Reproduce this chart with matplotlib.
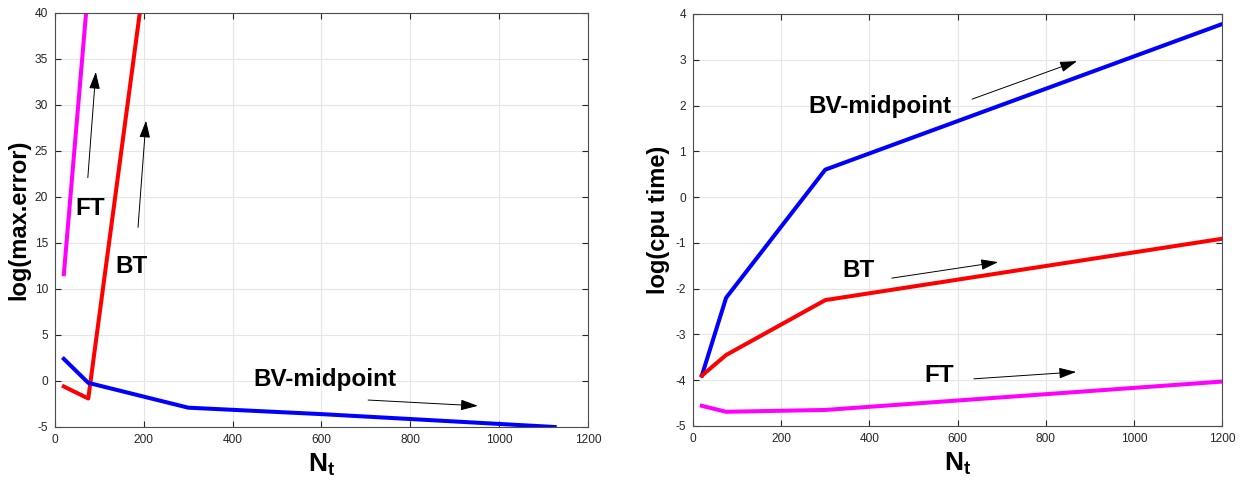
import numpy as np
import matplotlib
matplotlib.use("Agg")
import matplotlib.pyplot as plt

plt.rcParams['font.family'] = ['Liberation Sans', 'DejaVu Sans']
plt.rcParams['mathtext.fontset'] = 'custom'
plt.rcParams['mathtext.rm'] = 'Liberation Sans'
plt.rcParams['mathtext.bf'] = 'Liberation Sans:bold'
plt.rcParams['axes.unicode_minus'] = False

# left panel: log(max.error)
nt_ft_err = [20, 75]
ft_err = [11.6, 42.8]
nt_bt_err = [20, 75, 300]
bt_err = [-0.6, -1.9, 79.4]
nt_bv_err = [20, 75, 300, 600, 1125]
bv_err = [2.4, -0.2, -2.9, -3.6, -5.0]

# right panel: log(cpu time)
nt_cpu = [20, 75, 300, 1200]
bv_cpu = [-3.9, -2.2, 0.6, 3.78]
bt_cpu = [-3.9, -3.45, -2.25, -0.91]
ft_cpu = [-4.56, -4.69, -4.65, -4.03]

grid_col = '#e6e6e6'
tick_col = '#262626'
lw = 2.9

fig = plt.figure(figsize=(12.46, 4.86), dpi=100)
ax1 = fig.add_axes([0.0441, 0.1214, 0.4278, 0.8519])
ax2 = fig.add_axes([0.5562, 0.1235, 0.4246, 0.8477])


def style(ax):
    ax.grid(True, color=grid_col, lw=0.8)
    ax.set_axisbelow(True)
    ax.tick_params(direction='in', top=True, right=True, labelsize=8.6,
                   colors=tick_col, length=4, width=0.8, pad=5)
    for s in ax.spines.values():
        s.set_color('#4d4d4d')
        s.set_linewidth(0.8)


def arrow(ax, x0, y0, x1, y1):
    ax.annotate('', xy=(x1, y1), xytext=(x0, y0),
                arrowprops=dict(arrowstyle='-|>,head_length=0.7,head_width=0.22',
                                color='black', lw=0.7,
                                mutation_scale=15, shrinkA=0, shrinkB=0))


# left
ax1.plot(nt_ft_err, ft_err, color='magenta', lw=lw)
ax1.plot(nt_bt_err, bt_err, color='red', lw=lw)
ax1.plot(nt_bv_err, bv_err, color='blue', lw=lw)
ax1.set_xlim(0, 1200)
ax1.set_ylim(-5, 40)
ax1.set_xticks(np.arange(0, 1201, 200))
ax1.set_yticks(np.arange(-5, 41, 5))
style(ax1)
ax1.set_xlabel(r'$\mathbf{N_t}$', fontsize=19, labelpad=4)
ax1.set_ylabel('log(max.error)', fontsize=17, fontweight='bold', labelpad=3)
ax1.text(80, 18.7, 'FT', fontsize=17.5, fontweight='bold', ha='center', va='center')
ax1.text(173, 12.4, 'BT', fontsize=17.5, fontweight='bold', ha='center', va='center')
ax1.text(608, 0.2, 'BV-midpoint', fontsize=17.5, fontweight='bold', ha='center', va='center')
arrow(ax1, 74, 22.1, 92, 33.6)
arrow(ax1, 187, 16.7, 205, 28.3)
arrow(ax1, 705, -2.07, 952, -2.7)

# right
ax2.plot(nt_cpu, bv_cpu, color='blue', lw=lw)
ax2.plot(nt_cpu, bt_cpu, color='red', lw=lw)
ax2.plot(nt_cpu, ft_cpu, color='magenta', lw=lw)
ax2.set_xlim(0, 1200)
ax2.set_ylim(-5, 4)
ax2.set_xticks(np.arange(0, 1201, 200))
ax2.set_yticks(np.arange(-5, 5, 1))
style(ax2)
ax2.set_xlabel(r'$\mathbf{N_t}$', fontsize=19, labelpad=4)
ax2.set_ylabel('log(cpu time)', fontsize=17, fontweight='bold', labelpad=4)
ax2.text(424, 1.97, 'BV-midpoint', fontsize=17.5, fontweight='bold', ha='center', va='center')
ax2.text(375, -1.61, 'BT', fontsize=17.5, fontweight='bold', ha='center', va='center')
ax2.text(559, -3.89, 'FT', fontsize=17.5, fontweight='bold', ha='center', va='center')
arrow(ax2, 633, 2.14, 871, 2.97)
arrow(ax2, 451, -1.77, 692, -1.42)
arrow(ax2, 637, -3.97, 869, -3.82)

fig.savefig('out.png', dpi=100)
